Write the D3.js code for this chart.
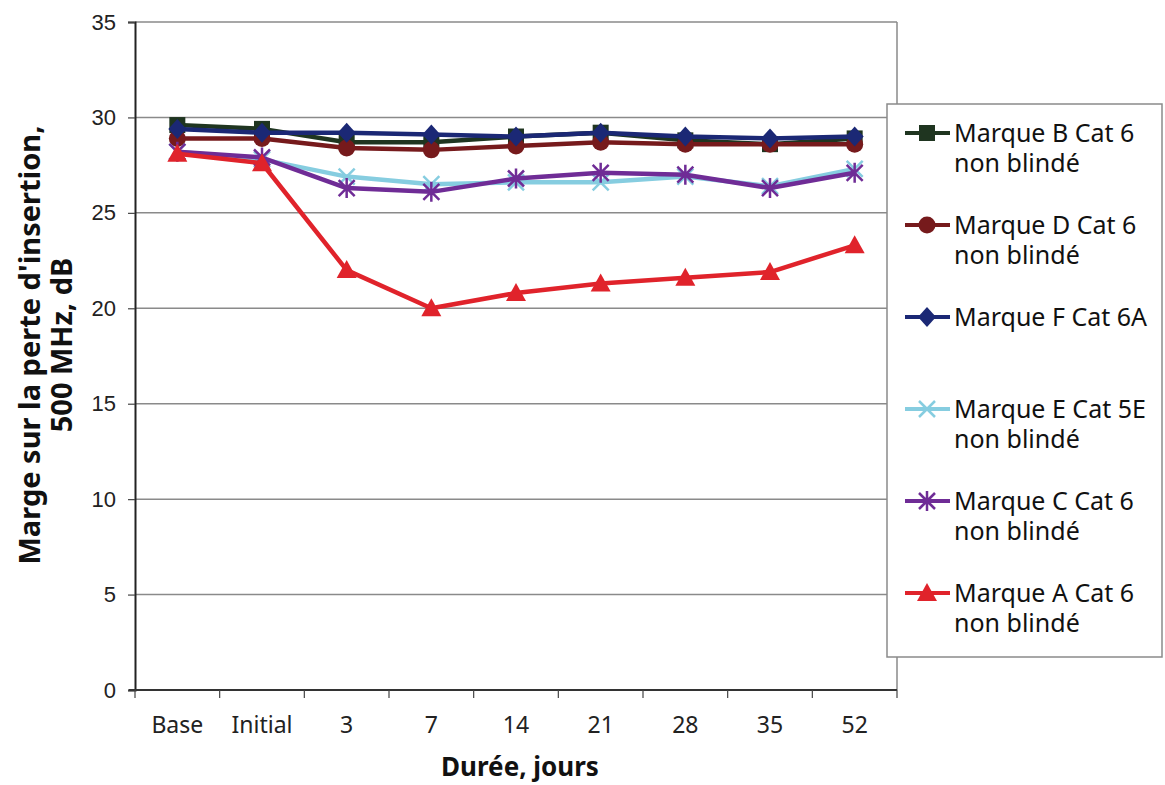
<!DOCTYPE html>
<html>
<head>
<meta charset="utf-8">
<script src="https://cdn.jsdelivr.net/npm/d3@7"></script>
<style>
  body { margin: 0; background: #fff; }
  svg { display: block; }
</style>
</head>
<body>
<svg id="chart" width="1165" height="785"></svg>
<script>
// --- data ---
var categories = ["Base", "Initial", "3", "7", "14", "21", "28", "35", "52"];
var yTicks = [0, 5, 10, 15, 20, 25, 30, 35];

var marqueB = [29.6, 29.4, 28.7, 28.7, 29.0, 29.2, 28.8, 28.6, 28.9];
var marqueD = [28.9, 28.9, 28.4, 28.3, 28.5, 28.7, 28.6, 28.6, 28.6];
var marqueF = [29.4, 29.2, 29.2, 29.1, 29.0, 29.2, 29.0, 28.9, 29.0];
var marqueE = [28.2, 27.8, 26.9, 26.5, 26.6, 26.6, 26.9, 26.4, 27.3];
var marqueC = [28.2, 27.9, 26.3, 26.1, 26.8, 27.1, 27.0, 26.3, 27.1];
var marqueA = [28.1, 27.6, 22.0, 20.0, 20.8, 21.3, 21.6, 21.9, 23.3];

var seriesNames = [
  ["Marque B Cat 6", "non blindé"],
  ["Marque D Cat 6", "non blindé"],
  ["Marque F Cat 6A"],
  ["Marque E Cat 5E", "non blindé"],
  ["Marque C Cat 6", "non blindé"],
  ["Marque A Cat 6", "non blindé"]
];

(function() {
  // --- setup ---
  var series = [
    { name: seriesNames[0], values: marqueB, color: "#1f3520", marker: "square" },
    { name: seriesNames[1], values: marqueD, color: "#761a1c", marker: "circle" },
    { name: seriesNames[2], values: marqueF, color: "#1b2875", marker: "diamond" },
    { name: seriesNames[3], values: marqueE, color: "#86cde0", marker: "x" },
    { name: seriesNames[4], values: marqueC, color: "#6f2c96", marker: "star" },
    { name: seriesNames[5], values: marqueA, color: "#e0232b", marker: "triangle" }
  ];

  var plotLeft = 135, plotRight = 897, plotTop = 22, plotBottom = 690;
  var svg = d3.select("#chart");

  var x = d3.scaleBand().domain(categories).range([plotLeft, plotRight]);
  var y = d3.scaleLinear().domain([0, 35]).range([plotBottom, plotTop]);

  // gridlines
  svg.append("g")
    .selectAll("line")
    .data(yTicks.filter(function(d) { return d > 0; }))
    .enter().append("line")
    .attr("x1", plotLeft).attr("x2", plotRight)
    .attr("y1", function(d) { return y(d); })
    .attr("y2", function(d) { return y(d); })
    .attr("stroke", "#8a8a8a")
    .attr("stroke-width", 1.5);

  // right border of the plot
  svg.append("line")
    .attr("x1", plotRight).attr("x2", plotRight)
    .attr("y1", plotTop).attr("y2", plotBottom)
    .attr("stroke", "#8a8a8a").attr("stroke-width", 1.5);

  // y axis
  var yAxis = svg.append("g")
    .attr("transform", "translate(" + plotLeft + ",0)")
    .call(d3.axisLeft(y).tickValues(yTicks).tickSize(7).tickPadding(12));
  yAxis.attr("font-size", null).attr("font-family", null);
  yAxis.select(".domain").attr("stroke", "#222").attr("stroke-width", 2);
  yAxis.selectAll(".tick line").attr("stroke", "#444").attr("stroke-width", 1.2);
  yAxis.selectAll("text")
    .style("font-family", "'Liberation Sans', Arial, sans-serif")
    .style("font-size", "22px")
    .attr("fill", "#222");

  // x axis with ticks at the band edges
  var xAxis = svg.append("g").attr("transform", "translate(0," + plotBottom + ")");
  xAxis.append("line")
    .attr("x1", plotLeft - 6).attr("x2", plotRight)
    .attr("stroke", "#333").attr("stroke-width", 2);
  var edges = categories.map(function(c) { return x(c); }).concat([plotRight]);
  xAxis.selectAll("line.edge")
    .data(edges)
    .enter().append("line")
    .attr("class", "edge")
    .attr("x1", function(d) { return d; })
    .attr("x2", function(d) { return d; })
    .attr("y1", 0).attr("y2", 8)
    .attr("stroke", "#444").attr("stroke-width", 1.2);
  xAxis.selectAll("text")
    .data(categories)
    .enter().append("text")
    .attr("x", function(d) { return x(d) + x.bandwidth() / 2; })
    .attr("y", 43)
    .attr("text-anchor", "middle")
    .attr("font-family", "'Noto Sans', sans-serif")
    .attr("font-size", 23)
    .attr("fill", "#222")
    .text(function(d) { return d; });

  // axis titles
  svg.append("text")
    .attr("x", 520).attr("y", 776)
    .attr("text-anchor", "middle")
    .attr("font-family", "'Noto Sans', sans-serif")
    .attr("font-weight", "bold")
    .attr("font-size", 26)
    .attr("fill", "#111")
    .text("Durée, jours");

  var yTitle = svg.append("text")
    .attr("transform", "translate(0,345) rotate(-90)")
    .attr("text-anchor", "middle")
    .attr("font-family", "'Noto Sans', sans-serif")
    .attr("font-weight", "bold")
    .attr("font-size", 29)
    .attr("fill", "#111");
  yTitle.append("tspan").attr("x", 0).attr("y", 40).text("Marge sur la perte d'insertion,");
  yTitle.append("tspan").attr("x", 0).attr("y", 72).text("500 MHz, dB");

  // markers
  function drawMarker(g, type, color, cx, cy) {
    if (type === "square") {
      g.append("rect").attr("x", cx - 8).attr("y", cy - 8).attr("width", 16).attr("height", 16).attr("fill", color);
    } else if (type === "circle") {
      g.append("circle").attr("cx", cx).attr("cy", cy).attr("r", 8.5).attr("fill", color);
    } else if (type === "diamond") {
      g.append("path").attr("d", "M" + cx + "," + (cy - 10) + "L" + (cx + 9) + "," + cy + "L" + cx + "," + (cy + 10) + "L" + (cx - 9) + "," + cy + "Z").attr("fill", color);
    } else if (type === "triangle") {
      g.append("path").attr("d", "M" + cx + "," + (cy - 10) + "L" + (cx + 10) + "," + (cy + 8) + "L" + (cx - 10) + "," + (cy + 8) + "Z").attr("fill", color);
    } else if (type === "x") {
      g.append("path").attr("d", "M" + (cx - 8) + "," + (cy - 8) + "L" + (cx + 8) + "," + (cy + 8) + "M" + (cx + 8) + "," + (cy - 8) + "L" + (cx - 8) + "," + (cy + 8))
        .attr("stroke", color).attr("stroke-width", 2.5);
    } else if (type === "star") {
      g.append("path").attr("d", "M" + (cx - 8) + "," + (cy - 8) + "L" + (cx + 8) + "," + (cy + 8) + "M" + (cx + 8) + "," + (cy - 8) + "L" + (cx - 8) + "," + (cy + 8) + "M" + cx + "," + (cy - 10) + "L" + cx + "," + (cy + 10))
        .attr("stroke", color).attr("stroke-width", 2.5);
    }
  }

  var line = d3.line()
    .x(function(d, i) { return x(categories[i]) + x.bandwidth() / 2; })
    .y(function(d) { return y(d); });

  series.forEach(function(s) {
    var g = svg.append("g");
    g.append("path")
      .attr("d", line(s.values))
      .attr("fill", "none")
      .attr("stroke", s.color)
      .attr("stroke-width", 4.5)
      .attr("stroke-linejoin", "round");
    s.values.forEach(function(v, i) {
      drawMarker(g, s.marker, s.color, x(categories[i]) + x.bandwidth() / 2, y(v));
    });
  });

  // legend
  var lg = svg.append("g");
  lg.append("rect")
    .attr("x", 887).attr("y", 104)
    .attr("width", 275).attr("height", 553)
    .attr("fill", "#fff")
    .attr("stroke", "#8a8a8a").attr("stroke-width", 1.5);

  series.forEach(function(s, i) {
    var cy = 133 + i * 92;
    var g = lg.append("g");
    g.append("line")
      .attr("x1", 905).attr("x2", 950)
      .attr("y1", cy).attr("y2", cy)
      .attr("stroke", s.color).attr("stroke-width", 4);
    drawMarker(g, s.marker, s.color, 927, cy);
    var t = g.append("text")
      .attr("font-family", "'Noto Sans', sans-serif")
      .attr("font-size", 25)
      .attr("fill", "#111");
    s.name.forEach(function(part, j) {
      t.append("tspan").attr("x", 954).attr("y", cy + 9 + j * 30).text(part);
    });
  });
})();
</script>
</body>
</html>
